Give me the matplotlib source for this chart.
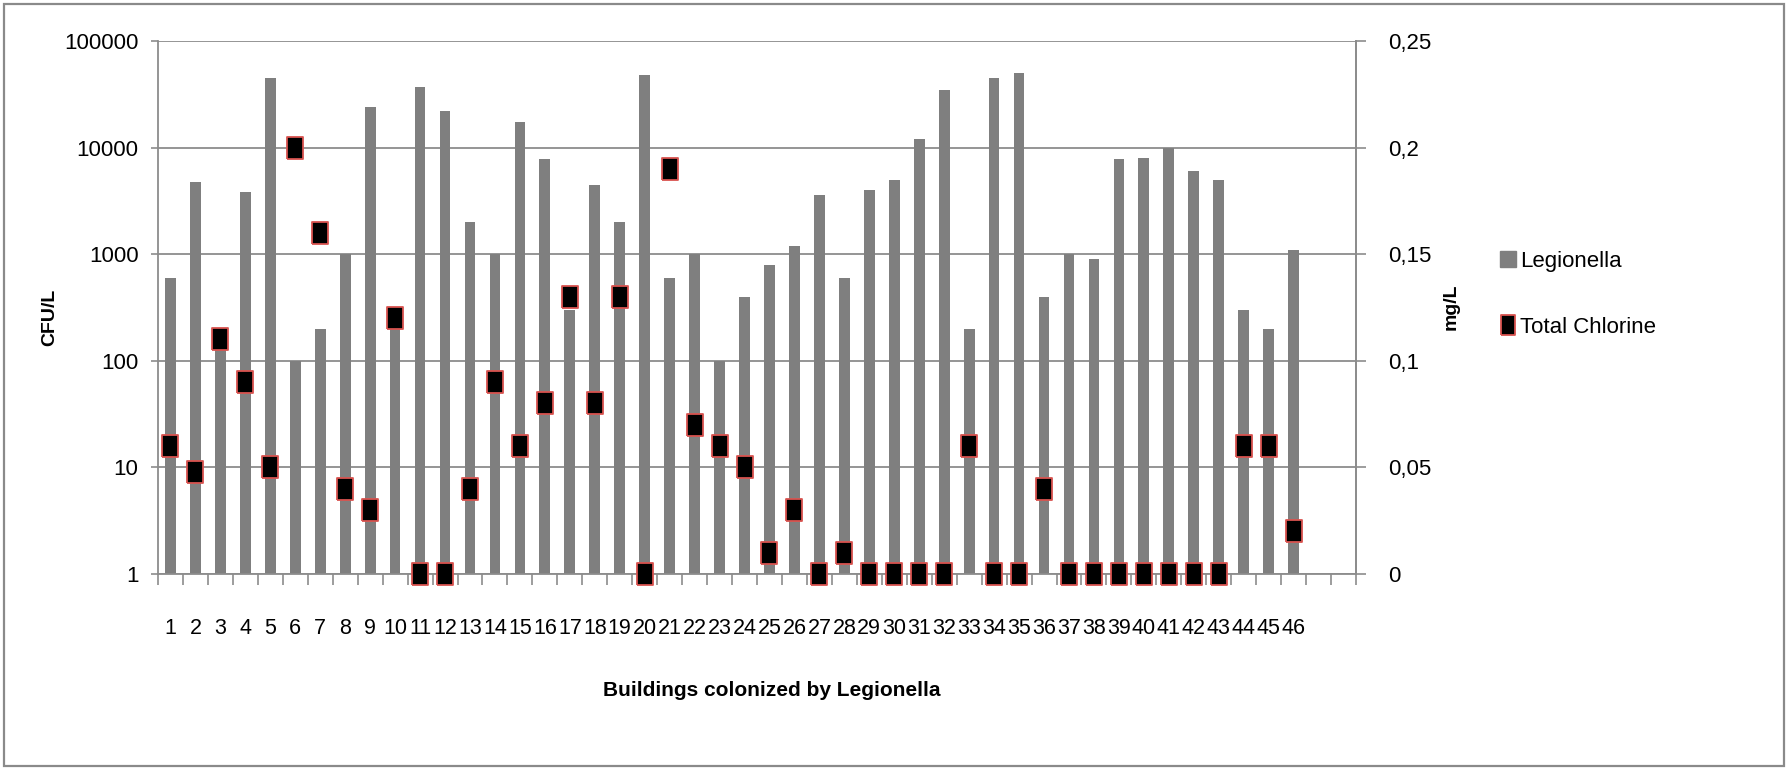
import matplotlib
matplotlib.use("Agg")
import matplotlib.pyplot as plt
from matplotlib.lines import Line2D
from matplotlib.patches import Rectangle
from matplotlib.ticker import FixedLocator, FuncFormatter, NullFormatter

plt.rcParams['font.family'] = ['Liberation Sans', 'DejaVu Sans']

# Legionella counts (CFU/L) per colonized building
buildings = list(range(1, 47))
legionella = [600, 4800, 130, 3800, 45000, 100, 200, 1000, 24000, 200,
              37000, 22000, 2000, 1000, 17500, 7800, 300, 4500, 2000, 48000,
              600, 1000, 100, 400, 800, 1200, 3600, 600, 4000, 5000,
              12000, 35000, 200, 45000, 50000, 400, 1000, 900, 7800, 8000,
              10000, 6000, 5000, 300, 200, 1100]
# Total chlorine (mg/L)
chlorine = [0.06, 0.048, 0.11, 0.09, 0.05, 0.2, 0.16, 0.04, 0.03, 0.12,
            0, 0, 0.04, 0.09, 0.06, 0.08, 0.13, 0.08, 0.13, 0,
            0.19, 0.07, 0.06, 0.05, 0.01, 0.03, 0, 0.01, 0, 0,
            0, 0, 0.06, 0, 0, 0.04, 0, 0, 0, 0,
            0, 0, 0, 0.06, 0.06, 0.02]
n_slots = 48

W, H = 1791, 768
fig = plt.figure(figsize=(W / 100, H / 100), dpi=100)
fig.patches.append(Rectangle((4 / W, 2 / H), 1780 / W, 762 / H, transform=fig.transFigure,
                             fill=False, edgecolor='#8a8a8a', linewidth=1.6))

ax = fig.add_axes([158 / W, 1 - 574 / H, (1356 - 158) / W, (574 - 41) / H])
ax.set_yscale('log')
ax.bar(buildings, legionella, width=0.43, color='#7f7f7f', zorder=2)
ax.set_ylim(1, 100000)
ax.set_xlim(0.5, n_slots + 0.5)
ax.yaxis.set_major_locator(FixedLocator([1, 10, 100, 1000, 10000, 100000]))
ax.yaxis.set_minor_locator(FixedLocator([]))
ax.yaxis.set_major_formatter(FuncFormatter(lambda v, p: f"{int(round(v))}"))
ax.grid(axis='y', color='#8c8c8c', linewidth=1.3, zorder=0)
ax.set_axisbelow(True)

ax.set_xticks(buildings)
ax.set_xticklabels([str(b) for b in buildings])
ax.set_xticks([i + 0.5 for i in range(0, n_slots + 1)], minor=True)
ax.xaxis.set_minor_formatter(NullFormatter())
ax.tick_params(axis='x', which='major', length=0, pad=32, labelsize=15.5)
ax.tick_params(axis='x', which='minor', length=8, width=1.2, color='#8c8c8c', direction='out')
ax.tick_params(axis='y', which='major', length=5, width=1.2, color='#8c8c8c', pad=9, labelsize=16)

ax.spines['top'].set_visible(False)
for side in ('left', 'right', 'bottom'):
    ax.spines[side].set_color('#8c8c8c')
    ax.spines[side].set_linewidth(1.3)

ax.set_ylabel("CFU/L", fontsize=14, fontweight='bold')
ax.yaxis.set_label_coords(-0.083, 0.482)
ax.set_xlabel("Buildings colonized by Legionella", fontsize=15, fontweight='bold')
ax.xaxis.set_label_coords(0.512, -0.201)

ax2 = ax.twinx()
ax2.set_ylim(0, 0.25)
ax2.set_yticks([0, 0.05, 0.1, 0.15, 0.2, 0.25])
ax2.yaxis.set_major_formatter(FuncFormatter(lambda v, p: f"{v:g}".replace('.', ',')))
ax2.tick_params(axis='y', length=7, width=1.2, color='#8c8c8c', pad=16, labelsize=16)
for side in ('top', 'left', 'bottom'):
    ax2.spines[side].set_visible(False)
ax2.spines['right'].set_color('#8c8c8c')
ax2.spines['right'].set_linewidth(1.3)

rect = [(-0.36, -0.5), (0.36, -0.5), (0.36, 0.5), (-0.36, 0.5), (-0.36, -0.5)]
ax2.plot(buildings, chlorine, linestyle='none', marker=rect, markersize=16,
         markerfacecolor='black', markeredgecolor='#d9534f', markeredgewidth=1.3,
         clip_on=False, zorder=5)
ax2.set_ylabel("mg/L", fontsize=14, fontweight='bold')
ax2.yaxis.set_label_coords(1.072, 0.501)

handles = [
    Line2D([], [], linestyle='none', marker='s', markersize=11, markerfacecolor='#7f7f7f',
           markeredgecolor='#7f7f7f'),
    Line2D([], [], linestyle='none', marker=rect, markersize=15, markerfacecolor='black',
           markeredgecolor='#d9534f', markeredgewidth=1.3),
]
fig.legend(handles, ["Legionella", "Total Chlorine"], loc='upper left',
           bbox_to_anchor=(1490 / W, 1 - 240 / H), frameon=False, fontsize=16,
           handlelength=0.6, handletextpad=0.25, labelspacing=2.0, borderpad=0)

fig.savefig("out.png", dpi=100)
